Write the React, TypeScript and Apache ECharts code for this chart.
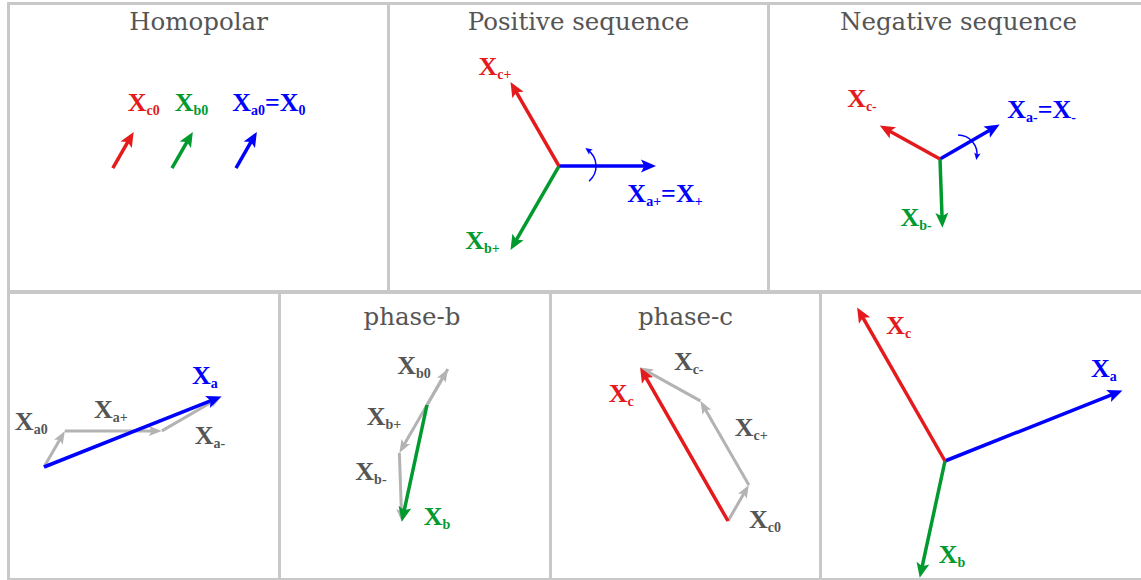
import React, { useEffect, useRef } from "react";
import * as echarts from "echarts";

// ---------------- data (phasors in per-unit, angles in degrees) ----------------
const PHASES = ["a", "b", "c"];
const ZERO_MAG = 0.43;
const ZERO_ANG = [60, 60, 60];
const POS_MAG = 1.0;
const POS_ANG = [0, -120, 120];
const NEG_MAG = 0.71;
const NEG_ANG = [30, -88, 151];
const HOMOPOLAR_TAIL_X = [0, -0.66, -1.27];
const TOP_TITLES = ["Homopolar", "Positive sequence", "Negative sequence"];
const BOTTOM_TITLES = ["phase-b", "phase-c"];

// ---------------- styling / layout ----------------
const PX_PER_UNIT = 97;
const COLORS = ["#0000ff", "#009a2e", "#e41a1c"];
const GRAY = "#b3b3b3";
const LABEL_GRAY = "#555555";
const BORDER = "#c8c8c8";
const TITLE_COLOR = "#555555";
const LABEL_FONT = '"Liberation Serif", "Times New Roman", serif';
const TITLE_FONT = '"DejaVu Serif", serif';

// panel inner rect [left, top, width, height] and phasor origin (px)
const PANEL_RECTS = [
  [10, 5, 377, 285],
  [390, 5, 377, 285],
  [770, 5, 371, 285],
  [10, 294, 268, 285],
  [281, 294, 268, 285],
  [552, 294, 267, 285],
  [822, 294, 319, 285],
];
const PANEL_ORIGINS = [
  [236, 168],
  [559, 166],
  [940, 159],
  [44, 467],
  [427, 405],
  [728, 521],
  [945, 461],
];
const TOP_TITLE_X = [198.5, 578.5, 958.5];
const BOTTOM_TITLE_X = [412, 685.5];

// label offsets from the arrow tip (px, screen)
const LBL_HOMO = [[12, -28], [-1.4, -28], [10, -28]];
const LBL_POS = [[9, 28.5], [-28, -9], [-15.5, -14]];
const LBL_NEG = [[42, -14], [-26.4, -9], [-17.8, -26]];
const LBL_PHASE = [
  [[-33.6, -7.9], [-50.9, -19.9], [-11.5, 40.2], [-16.5, -19.8]],
  [[-33.9, -2.2], [-15.4, -35.4], [-30.8, -49.7], [35.2, -4.7]],
  [[16.1, 35.4], [50.9, 27.9], [48.6, -4.5], [-18.9, 27.2]],
];
const LBL_TOTAL = [[-18.7, -20.8], [32.3, -22.2], [41.5, 18.8]];

// rotation indicators: panel, centre offset from origin (px), radius, angles (deg, math), ccw
const ROT_ARCS = [
  { panel: 1, center: [17, 0], r: 20, from: -49, to: 54, ccw: true },
  { panel: 2, center: [18, -5], r: 19, from: 90, to: -9, ccw: false },
];

const COLOR_HEAD = [15, 6.5];
const GRAY_HEAD = [13, 5];

type Arrow = {
  from: number[];
  to: number[];
  color: string;
  width: number;
  head: number[];
  label: string[][];
  labelColor: string;
  off: number[];
};

const DEG = Math.PI / 180;
const ph = (m: number, a: number) => [m * Math.cos(a * DEG), m * Math.sin(a * DEG)];
const add = (p: number[], q: number[]) => [p[0] + q[0], p[1] + q[1]];

function buildPanels(): Arrow[][] {
  const Z = PHASES.map((_, k) => ph(ZERO_MAG, ZERO_ANG[k]));
  const P = PHASES.map((_, k) => ph(POS_MAG, POS_ANG[k]));
  const N = PHASES.map((_, k) => ph(NEG_MAG, NEG_ANG[k]));
  const colored = (from: number[], to: number[], k: number, label: string[][], off: number[]): Arrow => ({
    from, to, color: COLORS[k], width: 3.5, head: COLOR_HEAD, label, labelColor: COLORS[k], off,
  });
  const gray = (from: number[], to: number[], label: string[][], off: number[]): Arrow => ({
    from, to, color: GRAY, width: 3, head: GRAY_HEAD, label, labelColor: LABEL_GRAY, off,
  });

  const homo = PHASES.map((p, k) => {
    const t = [HOMOPOLAR_TAIL_X[k], 0];
    const lab = k === 0 ? [["X", "a0"], ["=X", "0"]] : [["X", p + "0"]];
    return colored(t, add(t, Z[k]), k, lab, LBL_HOMO[k]);
  });
  const pos = PHASES.map((p, k) => {
    const lab = k === 0 ? [["X", "a+"], ["=X", "+"]] : [["X", p + "+"]];
    return colored([0, 0], P[k], k, lab, LBL_POS[k]);
  });
  const neg = PHASES.map((p, k) => {
    const lab = k === 0 ? [["X", "a-"], ["=X", "-"]] : [["X", p + "-"]];
    return colored([0, 0], N[k], k, lab, LBL_NEG[k]);
  });
  const phasePanels = PHASES.map((p, k) => {
    const O = [0, 0];
    const A = add(O, Z[k]);
    const B = add(A, P[k]);
    const C = add(B, N[k]);
    const o = LBL_PHASE[k];
    return [
      gray(O, A, [["X", p + "0"]], o[0]),
      gray(A, B, [["X", p + "+"]], o[1]),
      gray(B, C, [["X", p + "-"]], o[2]),
      colored(O, C, k, [["X", p]], o[3]),
    ];
  });
  const total = PHASES.map((p, k) => {
    const C = add(add(Z[k], P[k]), N[k]);
    return colored([0, 0], C, k, [["X", p]], LBL_TOTAL[k]);
  });
  return [homo, pos, neg, ...phasePanels, total];
}

function richFor(color: string) {
  return {
    m: {
      fontSize: 26, fontWeight: "bold", fontFamily: LABEL_FONT, fill: color,
      verticalAlign: "bottom", padding: [0, 0, 2, 0],
    },
    s: {
      fontSize: 14, fontWeight: "bold", fontFamily: LABEL_FONT, fill: color,
      verticalAlign: "bottom",
    },
  };
}

function arrowHead(tip: number[], ux: number, uy: number, L: number, hw: number) {
  const nx = -uy, ny = ux;
  const bx = tip[0] - ux * L, by = tip[1] - uy * L;
  const kx = tip[0] - ux * L * 0.78, ky = tip[1] - uy * L * 0.78;
  return [tip, [bx + nx * hw, by + ny * hw], [kx, ky], [bx - nx * hw, by - ny * hw]];
}

export default function App() {
  const ref = useRef<HTMLDivElement>(null);

  useEffect(() => {
    if (!ref.current) return;
    const chart = echarts.init(ref.current, undefined, { renderer: "svg" });
    const panels = buildPanels();

    const grids: any[] = [];
    const xAxes: any[] = [];
    const yAxes: any[] = [];
    PANEL_RECTS.forEach((r, i) => {
      const [ox, oy] = PANEL_ORIGINS[i];
      grids.push({ left: r[0], top: r[1], width: r[2], height: r[3], containLabel: false });
      xAxes.push({
        type: "value", gridIndex: i, show: false,
        min: (r[0] - ox) / PX_PER_UNIT, max: (r[0] + r[2] - ox) / PX_PER_UNIT,
      });
      yAxes.push({
        type: "value", gridIndex: i, show: false,
        min: (oy - (r[1] + r[3])) / PX_PER_UNIT, max: (oy - r[1]) / PX_PER_UNIT,
      });
    });

    const series: any[] = panels.map((items, i) => ({
      type: "custom",
      coordinateSystem: "cartesian2d",
      xAxisIndex: i,
      yAxisIndex: i,
      silent: true,
      clip: false,
      encode: { x: [0, 2], y: [1, 3] },
      data: items.map((it) => [it.from[0], it.from[1], it.to[0], it.to[1]]),
      renderItem: (params: any, api: any) => {
        const it = items[params.dataIndex];
        const p0 = api.coord([api.value(0), api.value(1)]);
        const p1 = api.coord([api.value(2), api.value(3)]);
        const dx = p1[0] - p0[0], dy = p1[1] - p0[1];
        const len = Math.hypot(dx, dy) || 1;
        const ux = dx / len, uy = dy / len;
        const [L, hw] = it.head;
        const lineEnd = [p1[0] - ux * L * 0.7, p1[1] - uy * L * 0.7];
        const text = it.label.map(([m, s]) => `{m|${m}}{s|${s}}`).join("");
        return {
          type: "group",
          children: [
            {
              type: "line",
              shape: { x1: p0[0], y1: p0[1], x2: lineEnd[0], y2: lineEnd[1] },
              style: { stroke: it.color, lineWidth: it.width, lineCap: "butt" },
            },
            {
              type: "polygon",
              shape: { points: arrowHead(p1, ux, uy, L, hw) },
              style: { fill: it.color, stroke: null },
            },
            {
              type: "text",
              x: p1[0] + it.off[0],
              y: p1[1] + it.off[1],
              style: {
                text,
                rich: richFor(it.labelColor),
                align: "center",
                verticalAlign: "middle",
                textAlign: "center",
                textVerticalAlign: "middle",
              },
            },
          ],
        };
      },
    }));

    ROT_ARCS.forEach((a) => {
      series.push({
        type: "custom",
        coordinateSystem: "cartesian2d",
        xAxisIndex: a.panel,
        yAxisIndex: a.panel,
        silent: true,
        clip: false,
        data: [[0, 0]],
        renderItem: (_params: any, api: any) => {
          const o = api.coord([api.value(0), api.value(1)]);
          const cx = o[0] + a.center[0], cy = o[1] + a.center[1];
          const t = a.to * DEG;
          const ex = cx + a.r * Math.cos(t), ey = cy - a.r * Math.sin(t);
          const ux = a.ccw ? -Math.sin(t) : Math.sin(t);
          const uy = a.ccw ? -Math.cos(t) : Math.cos(t);
          return {
            type: "group",
            children: [
              {
                type: "arc",
                shape: {
                  cx, cy, r: a.r,
                  startAngle: -a.from * DEG,
                  endAngle: -a.to * DEG,
                  clockwise: !a.ccw,
                },
                style: { stroke: COLORS[0], lineWidth: 1.5, fill: null },
              },
              {
                type: "polygon",
                shape: { points: arrowHead([ex + ux * 3, ey + uy * 3], ux, uy, 7, 3.2) },
                style: { fill: COLORS[0], stroke: null },
              },
            ],
          };
        },
      });
    });

    const rect = (x: number, y: number, w: number, h: number) => ({
      type: "rect", silent: true, shape: { x, y, width: w, height: h }, style: { fill: BORDER },
    });
    const graphic: any[] = [
      rect(7, 2, 1134, 3),
      rect(7, 290, 1134, 4),
      rect(7, 578, 1134, 2),
      rect(7, 2, 3, 578),
      rect(387, 2, 3, 290),
      rect(767, 2, 3, 290),
      rect(278, 292, 3, 288),
      rect(549, 292, 3, 288),
      rect(819, 292, 3, 288),
    ];
    const title = (text: string, x: number, y: number) => ({
      type: "text", silent: true, x, y,
      style: {
        text, fill: TITLE_COLOR, font: `24.5px ${TITLE_FONT}`,
        align: "center", verticalAlign: "middle", textAlign: "center", textVerticalAlign: "middle",
      },
    });
    TOP_TITLES.forEach((t, i) => graphic.push(title(t, TOP_TITLE_X[i], 21)));
    BOTTOM_TITLES.forEach((t, i) => graphic.push(title(t, BOTTOM_TITLE_X[i], 316)));

    chart.setOption({
      animation: false,
      backgroundColor: "#ffffff",
      grid: grids,
      xAxis: xAxes,
      yAxis: yAxes,
      series,
      graphic,
    });
    return () => chart.dispose();
  }, []);

  return (
    <div
      ref={ref}
      style={{ position: "absolute", left: 0, top: 0, width: 1141, height: 580, background: "#fff" }}
    />
  );
}
